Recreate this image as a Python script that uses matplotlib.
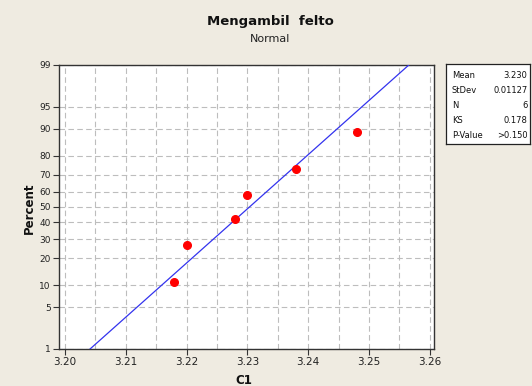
import numpy as np
import matplotlib
matplotlib.use("Agg")
import matplotlib.pyplot as plt
from matplotlib.ticker import MultipleLocator, FixedLocator, NullFormatter
from statistics import NormalDist

# Sample measurements (C1) and their plotting positions (percent)
c1_values = [3.218, 3.220, 3.228, 3.230, 3.238, 3.248]
percent_values = [10.9, 26.6, 42.2, 57.8, 73.4, 89.1]

# Probability-scale tick labels
percent_ticks = [1, 5, 10, 20, 30, 40, 50, 60, 70, 80, 90, 95, 99]
x_ticks = [3.20, 3.21, 3.22, 3.23, 3.24, 3.25, 3.26]

# Summary statistics shown in the side panel
ks_stat = 0.178
p_value_text = ">0.150"

nd = NormalDist()
def probit(p):
    return np.array([nd.inv_cdf(v / 100.0) for v in np.atleast_1d(p)])

x = np.array(c1_values)
mean = x.mean()
sd = x.std(ddof=1)
n = len(x)

bg = "#EFEBE1"
fig = plt.figure(figsize=(5.32, 3.86), dpi=100, facecolor=bg)
plt.rcParams["font.family"] = ["DejaVu Sans"]

ax = fig.add_axes([59/532, 1 - 349/386, (434 - 59)/532, (349 - 65)/386])
ax.set_facecolor("white")

# Fitted normal line from 1% to 99%
line_p = np.array([1.0, 99.0])
line_z = probit(line_p)
line_x = mean + sd * line_z
ax.plot(line_x, line_z, color="#3333EE", lw=0.9, zorder=3)

# Data points
ax.plot(x, probit(percent_values), "o", color="#FF0000", ms=5.5,
        mec="#FF0000", zorder=4)

ax.set_xlim(3.199, 3.2607)
ax.set_ylim(probit([1])[0], probit([99])[0])

ax.xaxis.set_major_locator(FixedLocator(x_ticks))
ax.set_xticklabels([f"{t:.2f}" for t in x_ticks])
ax.xaxis.set_minor_locator(MultipleLocator(0.005))
ax.xaxis.set_minor_formatter(NullFormatter())

ax.set_yticks(probit(percent_ticks))
ax.set_yticklabels([str(t) for t in percent_ticks])

grid_kw = dict(color="#BDBDBD", linestyle=(0, (5, 3)), linewidth=0.8)
ax.grid(True, which="major", axis="y", **grid_kw)
ax.grid(True, which="both", axis="x", **grid_kw)
ax.set_axisbelow(True)

ax.tick_params(axis="both", which="major", labelsize=7.5, length=4,
               width=0.8, color="#333333", labelcolor="#222222", pad=2)
ax.tick_params(axis="x", which="minor", length=0)
ax.tick_params(axis="y", labelsize=6.5)
for s in ax.spines.values():
    s.set_color("#333333")
    s.set_linewidth(1.0)

# Titles and axis labels
fig.text(270/532, 1 - 22/386, "Mengambil  felto", ha="center", va="center",
         fontsize=9.5, fontweight="bold", color="#111111")
fig.text(270/532, 1 - 39/386, "Normal", ha="center", va="center",
         fontsize=8, color="#222222")
fig.text(29/532, 1 - 208/386, "Percent", ha="center", va="center",
         rotation=90, fontsize=8.5, fontweight="bold", color="#111111")
fig.text(244/532, 1 - 380/386, "C1", ha="center", va="center",
         fontsize=8.5, fontweight="bold", color="#111111")

# Statistics panel
box = fig.add_axes([446/532, 1 - 144/386, (530 - 446)/532, (144 - 64)/386])
box.set_facecolor("white")
box.set_xticks([])
box.set_yticks([])
for s in box.spines.values():
    s.set_color("#222222")
    s.set_linewidth(0.9)

rows = [("Mean", f"{mean:.3f}"), ("StDev", f"{sd:.5f}"), ("N", f"{n}"),
        ("KS", f"{ks_stat:.3f}"), ("P-Value", p_value_text)]
row_y = [75.7, 90.7, 105.3, 120.3, 135.3]
for (lab, val), yy in zip(rows, row_y):
    fy = 1 - yy/386
    fig.text(452/532, fy, lab, ha="left", va="center", fontsize=6,
             color="#111111")
    fig.text(527.5/532, fy, val, ha="right", va="center", fontsize=6,
             color="#111111")

fig.savefig("out.png", dpi=100, facecolor=bg)
